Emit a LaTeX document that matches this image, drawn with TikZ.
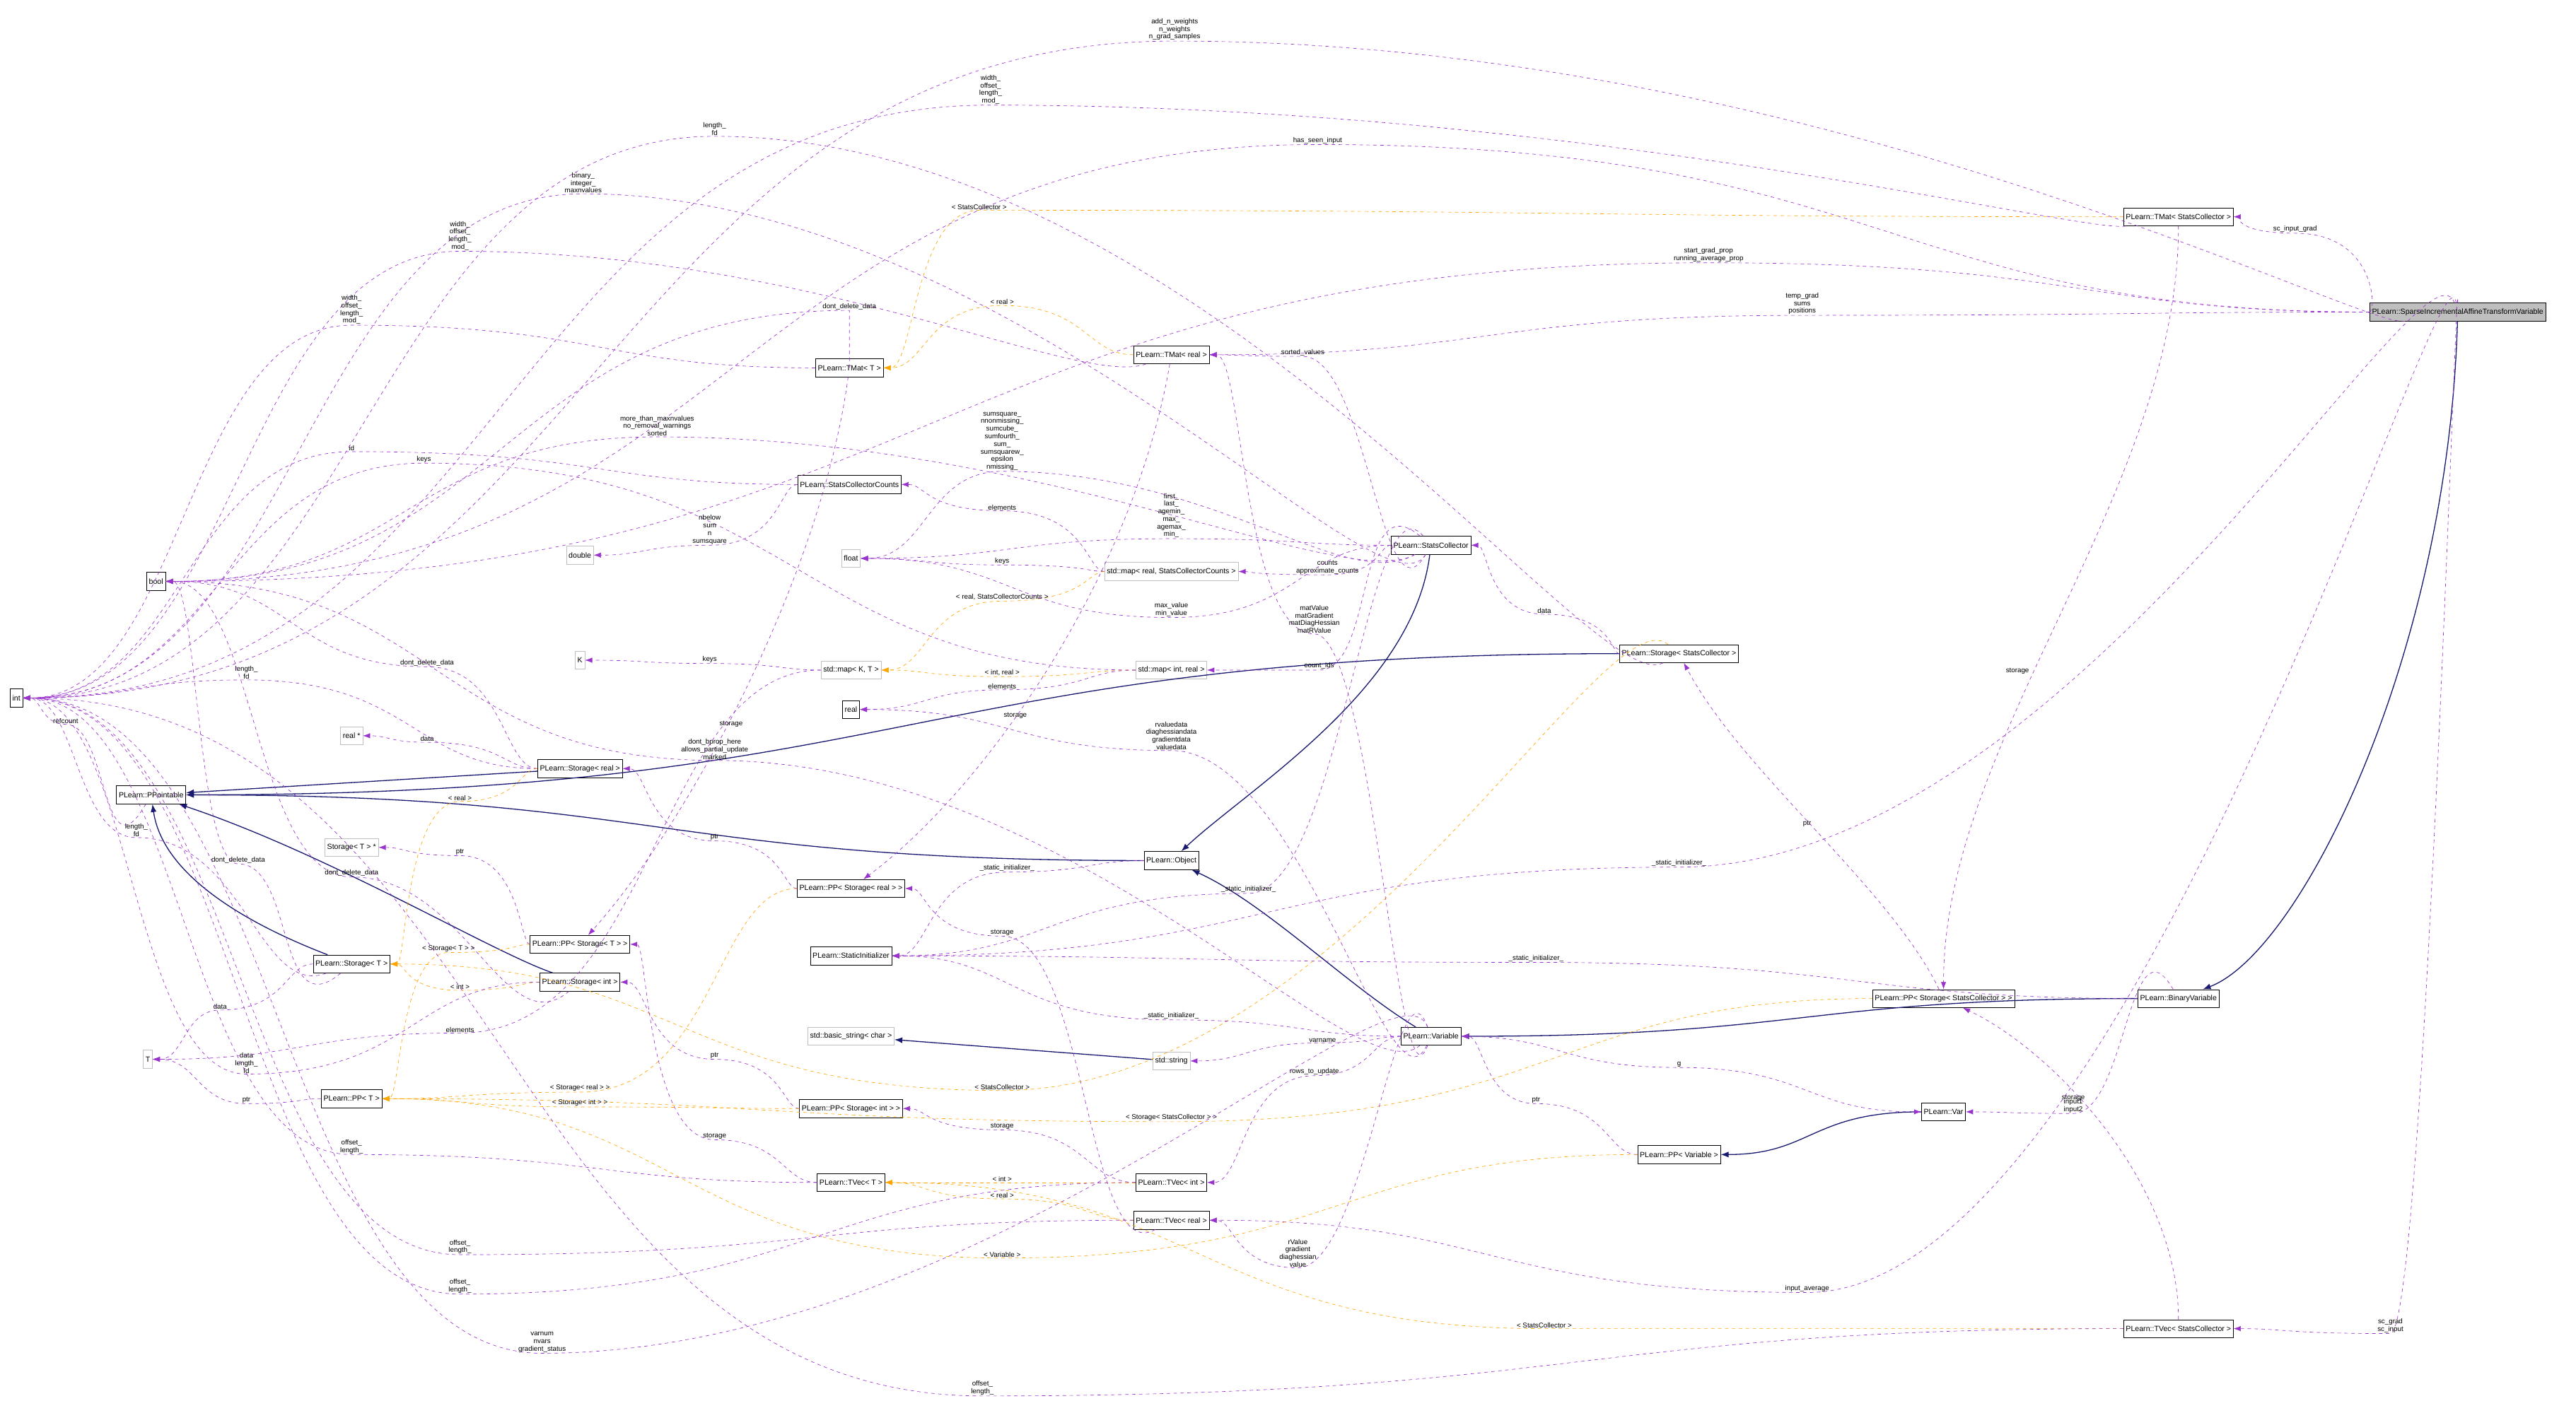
\documentclass[tikz,border=0pt]{standalone}
\usepackage{fontspec}
\setmainfont{Liberation Sans}
\usetikzlibrary{calc,arrows.meta}
\definecolor{mempurple}{HTML}{9A32CD}
\definecolor{tmplorange}{HTML}{FFA500}
\definecolor{inhnavy}{HTML}{191970}
\definecolor{graybox}{HTML}{BFBFBF}
\tikzset{
  nd/.style={draw=black,fill=white,inner sep=2pt,minimum height=0.55cm,font=\fontsize{6.5}{7.5}\selectfont},
  gnd/.style={nd,draw=graybox},
  mainnd/.style={nd,fill=graybox},
  mem/.style={draw=mempurple,dashed,-{Latex[length=2.2mm,width=1.6mm]}},
  tmpl/.style={draw=tmplorange,dashed,-{Latex[length=2.2mm,width=1.6mm]}},
  inh/.style={draw=inhnavy,thick,-{Latex[length=2.4mm,width=1.8mm]}},
  lbl/.style={font=\fontsize{6}{6.6}\selectfont,align=center,anchor=south,inner sep=0.5pt}
}
% edge through label point; optional first argument = start angle
\newcommand\medge[6][none]{%
  \coordinate (pp) at (#5);
  \coordinate (m1) at ($(#3)!0.5!(pp)$);
  \coordinate (m2) at ($(pp)!0.5!(#4)$);
  \def\tmp{#1}\def\nonestr{none}%
  \ifx\tmp\nonestr
    \coordinate (c1) at (m1 |- #3);
  \else
    \coordinate (c1) at ($(#3)+(#1:60)$);
  \fi
  \draw[#2] (#3) .. controls (c1) and (m1 |- pp) .. (pp)
            .. controls (m2 |- pp) and (m2 |- #4) .. (#4);
  \node[lbl] at (pp) {#6};}
\newcommand\hedge[3]{%
  \coordinate (m1) at ($(#2)!0.5!(#3)$);
  \draw[#1] (#2) .. controls (m1 |- #2) and (m1 |- #3) .. (#3);}
\begin{document}
\begin{tikzpicture}[x=0.05cm,y=-0.05cm]
\useasboundingbox[fill=white] (0,0) rectangle (1568,853);
% nodes
\node[mainnd] (sparse) at (1496,190) {PLearn::SparseIncrementalAffineTransformVariable};
\node[nd] (tmatsc) at (1326,132) {PLearn::TMat< StatsCollector >};
\node[nd] (tmatt) at (517,224) {PLearn::TMat< T >};
\node[nd] (tmatreal) at (713,216) {PLearn::TMat< real >};
\node[nd] (scc) at (517,295) {PLearn::StatsCollectorCounts};
\node[gnd] (double) at (353,338) {double};
\node[nd] (bool) at (95,354) {bool};
\node[gnd] (float) at (518,340) {float};
\node[gnd] (maprs) at (713,348) {std::map< real, StatsCollectorCounts >};
\node[nd] (sc) at (871,332) {PLearn::StatsCollector};
\node[gnd] (K) at (353,402) {K};
\node[gnd] (mapkt) at (518,408) {std::map< K, T >};
\node[gnd] (mapir) at (713,408) {std::map< int, real >};
\node[nd] (storsc) at (1022,398) {PLearn::Storage< StatsCollector >};
\node[nd] (int) at (10,425) {int};
\node[nd] (real) at (518,432) {real};
\node[gnd] (realp) at (214,448) {real *};
\node[nd] (storreal) at (353,468) {PLearn::Storage< real >};
\node[nd] (ppointable) at (92,484) {PLearn::PPointable};
\node[gnd] (stortp) at (214,516) {Storage< T > *};
\node[nd] (object) at (713,524) {PLearn::Object};
\node[nd] (ppsr) at (518,541) {PLearn::PP< Storage< real > >};
\node[nd] (staticinit) at (518,582) {PLearn::StaticInitializer};
\node[nd] (ppst) at (353,575) {PLearn::PP< Storage< T > >};
\node[nd] (stort) at (214,587) {PLearn::Storage< T >};
\node[nd] (storint) at (353,598) {PLearn::Storage< int >};
\node[nd] (ppssc) at (1183,608) {PLearn::PP< Storage< StatsCollector > >};
\node[nd] (binvar) at (1326,608) {PLearn::BinaryVariable};
\node[gnd] (basicstr) at (518,631) {std::basic\_string< char >};
\node[nd] (variable) at (871,631) {PLearn::Variable};
\node[gnd] (strg) at (713,646) {std::string};
\node[gnd] (T) at (90,645) {T};
\node[nd] (ppt) at (214,669) {PLearn::PP< T >};
\node[nd] (ppsi) at (518,675) {PLearn::PP< Storage< int > >};
\node[nd] (var) at (1183,677) {PLearn::Var};
\node[nd] (ppvariable) at (1022,703) {PLearn::PP< Variable >};
\node[nd] (tvect) at (518,720) {PLearn::TVec< T >};
\node[nd] (tvecint) at (713,720) {PLearn::TVec< int >};
\node[nd] (tvecreal) at (713,743) {PLearn::TVec< real >};
\node[nd] (tvecsc) at (1326,809) {PLearn::TVec< StatsCollector >};
% inheritance
\draw[inh] (storreal) -- (ppointable);
\hedge{inh}{storsc}{ppointable}
\hedge{inh}{object}{ppointable}
\draw[inh] (sc) .. controls (860,420) and (760,480) .. (object);
\draw[inh] (variable) .. controls (820,600) and (770,550) .. (object);
\draw[inh] (stort) .. controls (170,570) and (100,540) .. (ppointable);
\draw[inh] (storint) .. controls (300,580) and (200,520) .. (ppointable);
\draw[inh] (strg) -- (basicstr);
\hedge{inh}{binvar}{variable}
\draw[inh] (sparse) .. controls (1490,400) and (1400,580) .. (binvar);
\hedge{inh}{var}{ppvariable}
% members / templates
\medge[170]{mem}{sparse}{int}{715,25}{add\_n\_weights\\n\_weights\\n\_grad\_samples}
\medge[170]{mem}{tmatsc}{int}{603,64}{width\_\\offset\_\\length\_\\mod\_}
\medge[150]{mem}{storsc}{int}{435,83}{length\_\\fd}
\medge{mem}{sparse}{bool}{802,88}{has\_seen\_input}
\medge[120]{mem}{sc}{int}{355,118}{binary\_\\integer\_\\maxnvalues}
\medge[160]{mem}{tmatreal}{int}{280,153}{width\_\\offset\_\\length\_\\mod\_}
\medge{mem}{tmatt}{int}{214,198}{width\_\\offset\_\\length\_\\mod\_}
\medge{tmpl}{tmatsc}{tmatt}{596,128}{< StatsCollector >}
\medge{mem}{sparse}{tmatsc}{1397,142}{sc\_input\_grad}
\medge{mem}{sparse}{bool}{1040,160}{start\_grad\_prop\\running\_average\_prop}
\medge{mem}{sparse}{tmatreal}{1097,192}{temp\_grad\\sums\\positions}
\medge{tmpl}{tmatreal}{tmatt}{610,186}{< real >}
\medge{mem}{tmatt}{bool}{517,189}{dont\_delete\_data}
\medge[120]{mem}{sc}{tmatreal}{793,217}{sorted\_values}
\medge[150]{mem}{sc}{bool}{400,266}{more\_than\_maxnvalues\\no\_removal\_warnings\\sorted}
\medge{mem}{scc}{int}{214,275}{id}
\medge[150]{mem}{sc}{float}{610,287}{sumsquare\_\\nnonmissing\_\\sumcube\_\\sumfourth\_\\sum\_\\sumsquarew\_\\epsilon\\nmissing\_}
\medge{mem}{mapir}{int}{258,282}{keys}
\medge{mem}{sc}{float}{713,328}{first\_\\last\_\\agemin\_\\max\_\\agemax\_\\min\_}
\medge{mem}{scc}{double}{432,332}{nbelow\\sum\\n\\sumsquare}
\medge{mem}{maprs}{scc}{610,311}{elements}
\medge{mem}{maprs}{float}{610,344}{keys}
\medge{mem}{sc}{maprs}{808,350}{counts\\approximate\_counts}
\medge{tmpl}{maprs}{mapkt}{610,366}{< real, StatsCollectorCounts >}
\medge{mem}{storsc}{sc}{940,374}{data}
\medge[110]{mem}{variable}{tmatreal}{800,386}{matValue\\matGradient\\matDiagHessian\\matRValue}
\medge{mem}{sc}{float}{713,376}{max\_value\\min\_value}
\medge{mem}{mapkt}{K}{432,404}{keys}
\medge{tmpl}{mapir}{mapkt}{610,412}{< int, real >}
\medge[220]{mem}{sc}{mapir}{803,408}{count\_ids}
\medge{mem}{mapir}{real}{610,420}{elements}
\medge{mem}{storreal}{bool}{260,406}{dont\_delete\_data}
\medge{mem}{storreal}{int}{150,414}{length\_\\fd}
\draw[mem] (tmatt) .. controls (500,350) and (420,500) .. (ppst);
\node[lbl] at (445,443) {storage};
\draw[mem] (tmatreal) .. controls (690,350) and (600,480) .. (ppsr);
\node[lbl] at (618,438) {storage};
\medge[140]{mem}{variable}{bool}{435,463}{dont\_bprop\_here\\allows\_partial\_update\\marked}
\medge[115]{mem}{variable}{real}{713,457}{rvaluedata\\diaghessiandata\\gradientdata\\valuedata}
\medge{mem}{storreal}{realp}{260,452}{data}
\medge[120]{mem}{ppointable}{int}{40,441}{refcount}
\medge{tmpl}{storreal}{stort}{280,488}{< real >}
\medge{mem}{ppsr}{storreal}{435,512}{ptr}
\medge[160]{mem}{stort}{int}{83,510}{length\_\\fd}
\medge[140]{mem}{stort}{bool}{145,526}{dont\_delete\_data}
\medge[140]{mem}{storint}{bool}{214,534}{dont\_delete\_data}
\medge{mem}{ppst}{stortp}{280,521}{ptr}
\medge{mem}{object}{staticinit}{613,531}{\_static\_initializer\_}
\medge{mem}{stort}{T}{134,615}{data}
\medge{tmpl}{storint}{stort}{280,603}{< int >}
\medge{tmpl}{ppst}{ppt}{273,580}{< Storage< T > >}
\medge{mem}{storint}{int}{150,654}{data\\length\_\\fd}
\medge{mem}{ppt}{T}{150,672}{ptr}
\medge{tmpl}{ppsr}{ppt}{353,665}{< Storage< real > >}
\medge{mem}{ppsi}{storint}{435,645}{ptr}
\medge{tmpl}{ppsi}{ppt}{353,674}{< Storage< int > >}
\medge{tmpl}{ppssc}{ppt}{713,683}{< Storage< StatsCollector > >}
\medge[220]{tmpl}{storsc}{stort}{610,664}{< StatsCollector >}
\medge{mem}{mapkt}{T}{280,629}{elements}
\medge{mem}{variable}{strg}{805,635}{varname}
\medge{mem}{variable}{tvecint}{800,655}{rows\_to\_update}
\coordinate (gp) at (1022,650);
\draw[mem] (variable) .. controls (950,631) and (950,650) .. (gp) .. controls (1100,650) and (1100,677) .. (var);
\node[lbl] at (gp) {g};
\medge{mem}{ppvariable}{variable}{935,672}{ptr}
\medge[240]{mem}{binvar}{var}{1262,678}{input1\\input2}
\medge{mem}{binvar}{staticinit}{935,586}{\_static\_initializer\_}
\medge{mem}{variable}{staticinit}{713,621}{\_static\_initializer\_}
\medge[230]{mem}{sc}{staticinit}{760,544}{\_static\_initializer\_}
\medge[250]{mem}{sparse}{staticinit}{1022,528}{\_static\_initializer\_}
\draw[mem] (ppssc) .. controls (1150,540) and (1060,470) .. (storsc);
\node[lbl] at (1100,504) {ptr};
\draw[mem] (tmatsc) .. controls (1326,300) and (1183,450) .. (ppssc);
\node[lbl] at (1228,411) {storage};
\draw[mem] (tvecsc) .. controls (1326,720) and (1250,640) .. (ppssc);
\node[lbl] at (1262,671) {storage};
\medge{mem}{tvect}{ppst}{435,694}{storage}
\medge{mem}{tvecint}{ppsi}{610,688}{storage}
\medge{tmpl}{tvecint}{tvect}{610,720}{< int >}
\medge{tmpl}{tvecreal}{tvect}{610,730}{< real >}
\medge[150]{mem}{tvecreal}{ppsr}{610,570}{storage}
\medge{mem}{tvect}{int}{214,703}{offset\_\\length\_}
\medge[250]{mem}{variable}{tvecreal}{790,772}{rValue\\gradient\\diaghessian\\value}
\medge[260]{mem}{sparse}{tvecreal}{1100,787}{input\_average}
\medge{tmpl}{tvecsc}{tvect}{940,809}{< StatsCollector >}
\medge{tmpl}{ppvariable}{ppt}{610,766}{< Variable >}
\medge{mem}{tvecreal}{int}{280,764}{offset\_\\length\_}
\medge{mem}{tvecint}{int}{280,788}{offset\_\\length\_}
\medge[250]{mem}{variable}{int}{330,824}{varnum\\nvars\\gradient\_status}
\medge[270]{mem}{sparse}{tvecsc}{1455,812}{sc\_grad\\sc\_input}
\medge{mem}{tvecsc}{int}{598,850}{offset\_\\length\_}
\end{tikzpicture}
\end{document}
